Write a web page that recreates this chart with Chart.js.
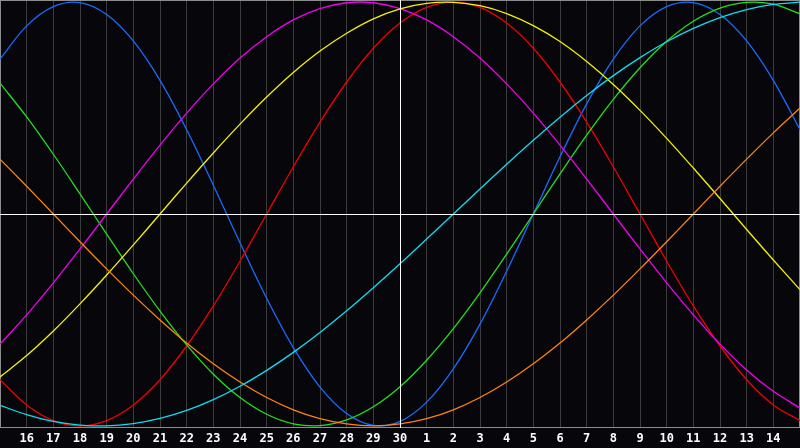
<!DOCTYPE html>
<html>
<head>
<meta charset="utf-8">
<script src="https://cdn.jsdelivr.net/npm/chart.js@4/dist/chart.umd.min.js"></script>
<style>
  html, body { margin: 0; padding: 0; background: #07060b; }
  #wrap { width: 800px; height: 448px; }
</style>
</head>
<body>
<div id="wrap"><canvas id="c" width="800" height="448"></canvas></div>
<script>
const dayLabels = ['', '16', '17', '18', '19', '20', '21', '22', '23', '24', '25', '26', '27', '28', '29', '30',
  '1', '2', '3', '4', '5', '6', '7', '8', '9', '10', '11', '12', '13', '14', ''];
const todayIndex = 15;

// 23-day (blue)
const physical = [0.731, 0.888, 0.979, 0.998, 0.942, 0.817, 0.631, 0.398, 0.136, -0.136, -0.398, -0.631, -0.817, -0.942, -0.998, -0.979,
  -0.888, -0.731, -0.520, -0.270, 0.000, 0.270, 0.520, 0.731, 0.888, 0.979, 0.998, 0.942, 0.817, 0.631, 0.398];
// 28-day (red)
const emotional = [-0.782, -0.901, -0.975, -1.000, -0.975, -0.901, -0.782, -0.623, -0.434, -0.223, 0.000, 0.223, 0.434, 0.623, 0.782, 0.901,
  0.975, 1.000, 0.975, 0.901, 0.782, 0.623, 0.434, 0.223, 0.000, -0.223, -0.434, -0.623, -0.782, -0.901, -0.975];
// 33-day (green)
const intellectual = [0.618, 0.458, 0.282, 0.095, -0.095, -0.282, -0.458, -0.618, -0.756, -0.866, -0.945, -0.990, -0.999, -0.972, -0.910, -0.815,
  -0.690, -0.541, -0.372, -0.189, 0.000, 0.189, 0.372, 0.541, 0.690, 0.815, 0.910, 0.972, 0.999, 0.990, 0.945];
// 38-day (magenta)
const intuitive = [-0.614, -0.476, -0.325, -0.165, 0.000, 0.165, 0.325, 0.476, 0.614, 0.736, 0.837, 0.916, 0.969, 0.997, 0.997, 0.969,
  0.916, 0.837, 0.736, 0.614, 0.476, 0.325, 0.165, 0.000, -0.165, -0.325, -0.476, -0.614, -0.736, -0.837, -0.916];
// 43-day (yellow)
const aesthetic = [-0.769, -0.668, -0.552, -0.424, -0.288, -0.146, 0.000, 0.146, 0.288, 0.424, 0.552, 0.668, 0.769, 0.853, 0.921, 0.968,
  0.994, 0.999, 0.983, 0.946, 0.889, 0.814, 0.720, 0.611, 0.489, 0.357, 0.217, 0.073, -0.073, -0.217, -0.357];
// 48-day (orange)
const awareness = [0.259, 0.131, 0.000, -0.131, -0.259, -0.383, -0.500, -0.609, -0.707, -0.793, -0.866, -0.924, -0.966, -0.991, -1.000, -0.991,
  -0.966, -0.924, -0.866, -0.793, -0.707, -0.609, -0.500, -0.383, -0.259, -0.131, 0.000, 0.131, 0.259, 0.383, 0.500];
// 53-day (cyan)
const spiritual = [-0.903, -0.947, -0.979, -0.996, -1.000, -0.989, -0.965, -0.927, -0.876, -0.813, -0.738, -0.653, -0.559, -0.457, -0.348, -0.235,
  -0.118, 0.000, 0.118, 0.235, 0.348, 0.457, 0.559, 0.653, 0.738, 0.813, 0.876, 0.927, 0.965, 0.989, 1.000];

const seriesList = [
  { name: '53', values: spiritual, color: '#12dcf0' },
  { name: '48', values: awareness, color: '#ff8410' },
  { name: '43', values: aesthetic, color: '#f4f400' },
  { name: '38', values: intuitive, color: '#f000f0' },
  { name: '33', values: intellectual, color: '#22e01e' },
  { name: '28', values: emotional, color: '#f00000' },
  { name: '23', values: physical, color: '#1a6cff' }
];

const toPoints = vals => vals.map((v, i) => ({ x: i, y: v }));

const framePlugin = {
  id: 'frame',
  beforeDraw(chart) {
    const { ctx } = chart;
    ctx.save();
    ctx.fillStyle = '#07060b';
    ctx.fillRect(0, 0, chart.width, chart.height);
    ctx.restore();
  },
  beforeDatasetsDraw(chart) {
    const { ctx, chartArea: a } = chart;
    ctx.save();
    ctx.strokeStyle = '#8c8c8c';
    ctx.lineWidth = 1;
    ctx.strokeRect(a.left + 0.5, a.top + 0.5, a.right - a.left - 1, a.bottom - a.top - 1);
    ctx.restore();
  },
  afterDatasetsDraw(chart) {
    const { ctx, chartArea: a, scales } = chart;
    const y0 = Math.round(scales.y.getPixelForValue(0)) + 0.5;
    const xt = Math.round(scales.x.getPixelForValue(todayIndex)) + 0.5;
    ctx.save();
    ctx.strokeStyle = '#ffffff';
    ctx.lineWidth = 1;
    ctx.beginPath();
    ctx.moveTo(a.left, y0); ctx.lineTo(a.right, y0);
    ctx.moveTo(xt, a.top); ctx.lineTo(xt, a.bottom);
    ctx.stroke();
    ctx.restore();
  }
};

new Chart(document.getElementById('c'), {
  type: 'line',
  data: {
    datasets: seriesList.map(s => ({
      label: s.name,
      data: toPoints(s.values),
      borderColor: s.color,
      borderWidth: 1.3,
      pointRadius: 0,
      tension: 0.33,
      fill: false
    }))
  },
  options: {
    responsive: false,
    animation: false,
    devicePixelRatio: 1,
    layout: { padding: 0, autoPadding: false },
    plugins: { legend: { display: false }, tooltip: { enabled: false } },
    scales: {
      x: {
        type: 'linear',
        min: 0,
        max: dayLabels.length - 1,
        border: { display: false },
        afterFit(scale) { scale.height = 20; scale.paddingLeft = 0; scale.paddingRight = 0; },
        grid: {
          color: '#3c3c3c',
          lineWidth: 1,
          drawTicks: false
        },
        ticks: {
          stepSize: 1,
          autoSkip: false,
          maxRotation: 0,
          padding: 4,
          color: '#ffffff',
          font: { family: 'DejaVu Sans Mono', size: 12, weight: 'bold', lineHeight: 1.2 },
          callback: (v) => dayLabels[v] ?? ''
        }
      },
      y: {
        display: false,
        min: -1.01,
        max: 1.01
      }
    }
  },
  plugins: [framePlugin]
});
</script>
</body>
</html>
